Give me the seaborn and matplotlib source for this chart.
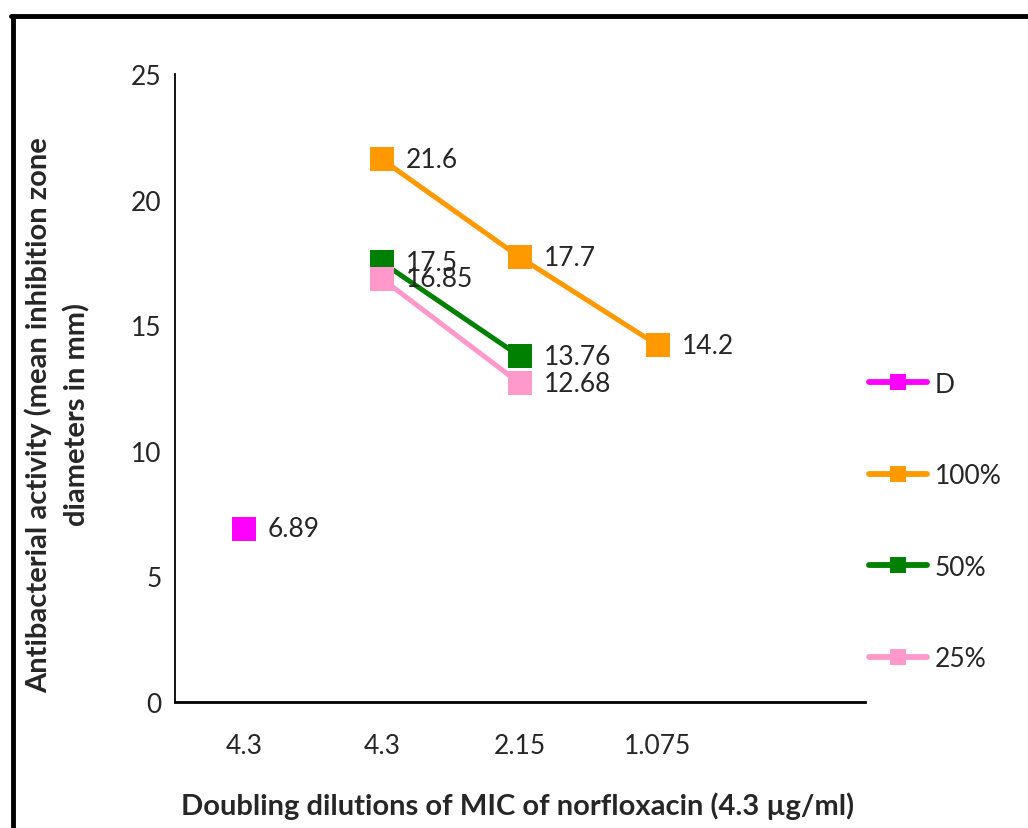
import matplotlib
matplotlib.use("Agg")
import matplotlib.pyplot as plt
import seaborn as sns
import pandas as pd
from matplotlib.lines import Line2D

categories = ["4.3", "4.3", "2.15", "1.075", ""]
series_names = ["D", "100%", "50%", "25%"]
d_vals = [6.89]
d_pos = [0]
v100 = [21.6, 17.7, 14.2]
p100 = [1, 2, 3]
v50 = [17.5, 13.76]
p50 = [1, 2]
v25 = [16.85, 12.68]
p25 = [1, 2]
colors = ["#FF00FF", "#FF9900", "#008000", "#FF99CC"]

rows = []
for name, pos, vals in zip(series_names, [d_pos, p100, p50, p25], [d_vals, v100, v50, v25]):
    for p, v in zip(pos, vals):
        rows.append({"series": name, "pos": p, "value": v})
df = pd.DataFrame(rows)

sns.set_style("white")
plt.rcParams["font.family"] = ["Lato", "DejaVu Sans"]

fig = plt.figure(figsize=(10.28, 8.29), dpi=100)
ax = fig.add_axes([0.1702, 0.152, 0.6712, 0.7575])

sns.lineplot(data=df, x="pos", y="value", hue="series", hue_order=series_names,
             palette=colors, marker="s", markersize=17.5, markeredgewidth=0,
             linewidth=3.6, ax=ax, legend=False)

for _, r in df.iterrows():
    ax.annotate(f"{r['value']:g}", (r["pos"], r["value"]), xytext=(17, 0),
                textcoords="offset points", ha="left", va="center", fontsize=19)

ax.set_xlim(-0.5, 4.5)
ax.set_ylim(0, 25)
ax.set_yticks([0, 5, 10, 15, 20, 25])
ax.set_xticks([i - 0.5 for i in range(6)])
ax.set_xticklabels([])
ax.set_xticks(range(5), minor=True)
ax.set_xticklabels(categories, minor=True)
ax.tick_params(axis="x", which="minor", length=0, pad=22, labelsize=19)
ax.tick_params(axis="x", which="major", direction="out", length=4.5, width=1.2, color="black")
ax.tick_params(axis="y", direction="out", length=4.5, width=1.2, color="black", labelsize=19, pad=5)

for s in ["top", "right"]:
    ax.spines[s].set_visible(False)
ax.spines["left"].set_color("black")
ax.spines["left"].set_linewidth(1.3)
ax.spines["bottom"].set_color("black")
ax.spines["bottom"].set_linewidth(2)

ax.set_xlabel("Doubling dilutions of MIC of norfloxacin (4.3 µg/ml)", fontsize=21,
              fontweight="bold", va="center")
ax.xaxis.set_label_coords(0.497, -0.164)
ax.set_ylabel("Antibacterial activity (mean inhibition zone\ndiameters in mm)", fontsize=21,
              fontweight="bold", linespacing=1.5, va="center")
ax.yaxis.set_label_coords(-0.170, 0.459)

handles = [Line2D([0], [0], color=c, lw=4.2, marker="s", markersize=11.5, markeredgewidth=0)
           for c in colors]
fig.legend(handles, series_names, loc="center left", bbox_to_anchor=(0.845, 0.370),
           frameon=False, fontsize=19, handlelength=2.2, handletextpad=0.3,
           labelspacing=2.52, borderpad=0, borderaxespad=0)

fig.add_artist(Line2D([0.0122, 0.0122], [0, 0.9795], color="black", lw=3.5,
                      transform=fig.transFigure))
fig.add_artist(Line2D([0.0105, 1.0], [0.9795, 0.9795], color="black", lw=3.5,
                      transform=fig.transFigure))

fig.savefig("out.png", dpi=100)
